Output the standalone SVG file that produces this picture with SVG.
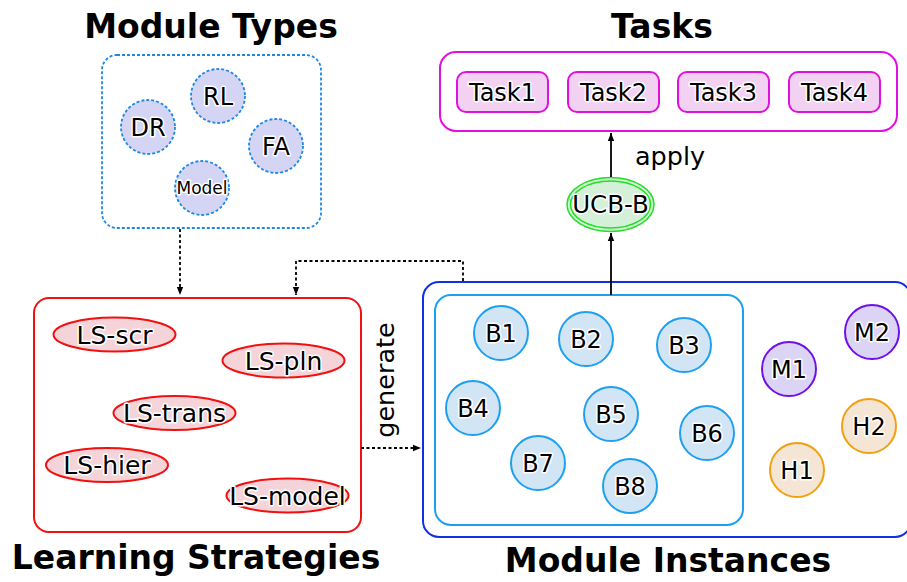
<svg xmlns="http://www.w3.org/2000/svg" width="907" height="582" viewBox="0 0 907 582">
<defs>
<marker id="ah" viewBox="0 0 10 10" refX="10" refY="5" markerWidth="8" markerHeight="8" markerUnits="userSpaceOnUse" orient="auto">
<path d="M0,1 L10,5 L0,9 z" fill="#000"/>
</marker>
<style>
text{font-family:"DejaVu Sans","Liberation Sans",sans-serif;fill:#000;text-anchor:middle;}
.t{font-weight:bold;font-size:33px;}
.l{font-size:24px;stroke:#fff;stroke-width:3px;paint-order:stroke;stroke-linejoin:round;}
.mt{fill:#d4d4f4;stroke:#1e88e5;stroke-width:1.8;stroke-dasharray:3,2;}
.task{fill:#f3d1f3;stroke:#e010e0;stroke-width:2;}
.ls{fill:#f4d4d8;stroke:#f01010;stroke-width:2;}
.b{fill:#d2e5f5;stroke:#1ea0f0;stroke-width:2;}
.m{fill:#dcd4f4;stroke:#7010e8;stroke-width:2;}
.h{fill:#f5e5d5;stroke:#f0a010;stroke-width:2;}
.dash{fill:none;stroke:#000;stroke-width:1.8;stroke-dasharray:3,2.5;}
.solid{fill:none;stroke:#000;stroke-width:1.8;}
</style>
</defs>
<rect width="907" height="582" fill="#fff"/>

<text class="t" x="211" y="38">Module Types</text>
<text class="t" x="662" y="38">Tasks</text>
<text class="t" x="196" y="569">Learning Strategies</text>
<text class="t" x="668" y="572">Module Instances</text>

<g id="module-types">
<rect x="102" y="55" width="219" height="173" rx="15" fill="none" stroke="#1e88e5" stroke-width="1.8" stroke-dasharray="3,2"/>
<g id="mt-rl"><circle class="mt" cx="218" cy="96" r="27"/><text class="l" x="218" y="105">RL</text></g>
<g id="mt-dr"><circle class="mt" cx="148" cy="127" r="27"/><text class="l" x="148" y="136">DR</text></g>
<g id="mt-fa"><circle class="mt" cx="276" cy="146" r="27"/><text class="l" x="276" y="155">FA</text></g>
<g id="mt-model"><circle class="mt" cx="202" cy="188" r="27"/><text class="l" x="202" y="194" style="font-size:17px">Model</text></g>
</g>

<g id="tasks">
<rect x="440" y="52" width="457" height="79" rx="16" fill="none" stroke="#e010e0" stroke-width="2"/>
<g id="task1"><rect class="task" x="457" y="72" width="91" height="40" rx="9"/><text class="l" x="502.5" y="101">Task1</text></g>
<g id="task2"><rect class="task" x="568" y="72" width="91" height="40" rx="9"/><text class="l" x="613.5" y="101">Task2</text></g>
<g id="task3"><rect class="task" x="678" y="72" width="91" height="40" rx="9"/><text class="l" x="723.5" y="101">Task3</text></g>
<g id="task4"><rect class="task" x="789" y="72" width="91" height="40" rx="9"/><text class="l" x="834.5" y="101">Task4</text></g>
</g>

<g id="ucb-b">
<ellipse cx="610.5" cy="204.5" rx="43.5" ry="27" fill="#d4f0d8" stroke="#20e020" stroke-width="1.5"/>
<ellipse cx="610.5" cy="204.5" rx="40" ry="23.5" fill="none" stroke="#20e020" stroke-width="1.5"/>
<text class="l" x="610.5" y="213" style="font-size:24.5px">UCB-B</text>
</g>

<g id="learning-strategies">
<rect x="34" y="298" width="327" height="234" rx="15" fill="none" stroke="#f01010" stroke-width="2"/>
<g id="ls-scr"><ellipse class="ls" cx="114.5" cy="334.5" rx="61" ry="17"/><text class="l" x="114.5" y="343.5" style="font-size:25px">LS-scr</text></g>
<g id="ls-pln"><ellipse class="ls" cx="283.5" cy="360.5" rx="61" ry="17"/><text class="l" x="283.5" y="369.5" style="font-size:25px">LS-pln</text></g>
<g id="ls-trans"><ellipse class="ls" cx="174.5" cy="413" rx="61" ry="17"/><text class="l" x="174.5" y="422" style="font-size:25px">LS-trans</text></g>
<g id="ls-hier"><ellipse class="ls" cx="107" cy="465" rx="61" ry="17"/><text class="l" x="107" y="474" style="font-size:25px">LS-hier</text></g>
<g id="ls-model"><ellipse class="ls" cx="287.5" cy="495.5" rx="61" ry="17"/><text class="l" x="287.5" y="504.5" style="font-size:25px">LS-model</text></g>
</g>

<g id="module-instances">
<rect x="423" y="282" width="488" height="255" rx="16" fill="none" stroke="#1030e8" stroke-width="2"/>
<rect x="435" y="295" width="308" height="230" rx="16" fill="none" stroke="#1ea0f0" stroke-width="2"/>
<g id="b1"><circle class="b" cx="501" cy="333" r="27"/><text class="l" x="501" y="342">B1</text></g>
<g id="b2"><circle class="b" cx="586" cy="339" r="27"/><text class="l" x="586" y="348">B2</text></g>
<g id="b3"><circle class="b" cx="684" cy="345" r="27"/><text class="l" x="684" y="354">B3</text></g>
<g id="b4"><circle class="b" cx="473" cy="408" r="27"/><text class="l" x="473" y="417">B4</text></g>
<g id="b5"><circle class="b" cx="611" cy="414" r="27"/><text class="l" x="611" y="423">B5</text></g>
<g id="b6"><circle class="b" cx="707" cy="433" r="27"/><text class="l" x="707" y="442">B6</text></g>
<g id="b7"><circle class="b" cx="538" cy="463" r="27"/><text class="l" x="538" y="472">B7</text></g>
<g id="b8"><circle class="b" cx="630" cy="486" r="27"/><text class="l" x="630" y="495">B8</text></g>
<g id="m1"><circle class="m" cx="789" cy="369" r="27"/><text class="l" x="789" y="378">M1</text></g>
<g id="m2"><circle class="m" cx="872" cy="332" r="27"/><text class="l" x="872" y="341">M2</text></g>
<g id="h1"><circle class="h" cx="797" cy="470" r="27"/><text class="l" x="797" y="479">H1</text></g>
<g id="h2"><circle class="h" cx="869" cy="426" r="27"/><text class="l" x="869" y="435">H2</text></g>
</g>

<g id="connectors">
<path class="dash" d="M180,229 V295" marker-end="url(#ah)"/>
<path class="dash" d="M463,281 V261 H296 V295" marker-end="url(#ah)"/>
<path class="dash" d="M361,448 H421" marker-end="url(#ah)"/>
<path class="solid" d="M611,295 V233" marker-end="url(#ah)"/>
<path class="solid" d="M611,177 V133" marker-end="url(#ah)"/>
<text class="l" x="670" y="165" style="font-size:25.5px">apply</text>
<text class="l" x="0" y="0" transform="translate(394,380) rotate(-90)" style="font-size:25.5px">generate</text>
</g>
</svg>
